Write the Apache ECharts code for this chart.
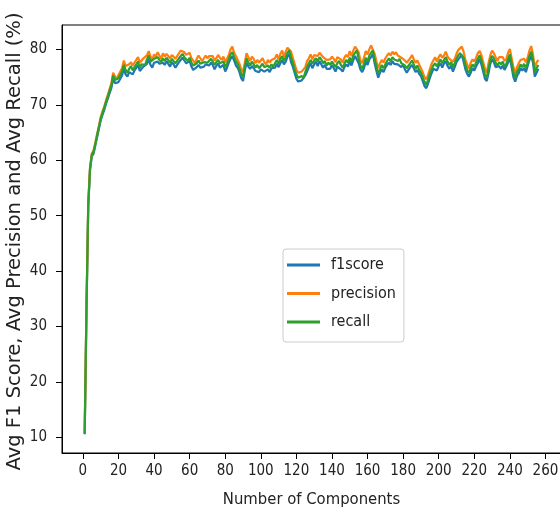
<!DOCTYPE html>
<html>
<head>
<meta charset="utf-8">
<script src="https://cdn.jsdelivr.net/npm/echarts@6/dist/echarts.min.js"></script>
<style>
  html, body { margin: 0; padding: 0; background: #fff; }
  #chart { width: 560px; height: 513px; }
</style>
</head>
<body>
<div id="chart"></div>
<script>
// number of components, 1..256
const components = Array.from({ length: 256 }, (_, i) => i + 1)

const recall = [
  10.7, 33, 52, 58.5, 61, 61.5, 63, 64.5, 66, 67.5,
  68.5, 69.5, 70.5, 71.5, 72.5, 73.5, 75.3, 74.5, 74.2, 74.8,
  75, 76, 77.2, 76.3, 75.8, 76.5, 77, 76.2, 76.8, 77.1,
  77.8, 76.7, 77.3, 77.6, 77.2, 78.2, 78.9, 77.8, 77.5, 78.3,
  78, 78.6, 78.1, 77.7, 78.4, 77.9, 78.5, 78.2, 77.6, 78.3,
  78, 77.5, 77.8, 78.4, 78.8, 79.2, 78.6, 78.3, 77.9, 78.5,
  77.6, 77.1, 76.8, 77.5, 78, 77.4, 77.1, 77.7, 78, 77.6,
  77.9, 78.3, 77.8, 77.2, 77.7, 78.1, 77.5, 77.3, 77.8, 76.8,
  77.4, 78.2, 79.1, 79.5, 78.6, 77.9, 77.4, 76.5, 75.6, 75,
  76.8, 78.4, 77.6, 77.1, 77.8, 77.3, 76.7, 77.2, 76.6, 77,
  77.4, 76.8, 76.5, 77.1, 76.7, 77.3, 76.9, 77.5, 78.1, 77.4,
  78.3, 78.8, 77.9, 78.6, 79.4, 79.8, 78.5, 77.6, 76.4, 75.5,
  74.9, 74.6, 75.2, 74.8, 75.9, 76.8, 77.5, 78.1, 77.4, 78,
  78.4, 77.8, 78.6, 78.2, 77.5, 77.9, 77.1, 77.6, 77.2, 77.8,
  77.3, 76.8, 77.5, 77.9, 77.2, 76.7, 77.4, 78.1, 77.6, 78.5,
  77.8, 78.9, 79.4, 79.8, 78.3, 77.1, 76.5, 77.4, 78.5, 77.8,
  78.9, 79.4, 79.8, 78.2, 76.9, 75.6, 76.4, 77.2, 76.6, 77.3,
  77.9, 78.4, 77.8, 78.6, 78.2, 78.4, 77.9, 78.3, 77.5, 77.8,
  77.1, 76.6, 76.9, 77.5, 78, 77.3, 76.5, 77.1, 76.3, 75.8,
  75, 74.2, 73.6, 74.5, 75.6, 76.4, 77.1, 77.5, 76.9, 77.6,
  78.2, 77.5, 78.1, 78.6, 77.8, 77.2, 77.7, 76.8, 77.5, 78.3,
  78.9, 79.3, 79.6, 78.5, 77.2, 76.3, 75.7, 76.6, 77.3, 76.8,
  77.6, 78.3, 78.9, 78, 76.8, 75.4, 74.9, 76.5, 78.1, 78.8,
  78.4, 77.6, 77.1, 77.7, 77.3, 77.8, 76.9, 77.4, 78.3, 79.1,
  77.5, 75.8, 74.8, 75.9, 76.5, 77.3, 76.8, 77.4, 76.6, 77.6,
  78.8, 79.6, 78.2, 75.8, 76.6, 77.2
]

const precision = [
  10.8, 33.3, 52.3, 58.7, 61.2, 61.8, 63.2, 64.8, 66.2, 67.8,
  68.8, 69.7, 70.8, 71.8, 72.9, 73.9, 75.8, 75.1, 74.7, 75.4,
  75.7, 76.6, 78.0, 77.0, 76.7, 77.3, 77.7, 77.1, 77.6, 77.7,
  78.6, 77.6, 78.0, 78.4, 78.2, 78.9, 79.7, 78.7, 78.1, 79.1,
  78.7, 79.5, 78.9, 78.3, 79.3, 78.7, 79.2, 79.1, 78.4, 79.0,
  78.9, 78.3, 78.5, 79.3, 79.8, 80.0, 79.5, 79.0, 78.7, 79.4,
  78.4, 78.0, 77.5, 78.3, 78.9, 78.4, 77.9, 78.4, 78.9, 78.4,
  78.8, 79.1, 78.8, 78.0, 78.4, 79.0, 78.5, 78.1, 78.7, 77.6,
  78.3, 79.0, 80.0, 80.5, 79.4, 78.8, 78.1, 77.4, 76.4, 75.9,
  77.6, 79.3, 78.6, 77.9, 78.7, 78.3, 77.5, 78.1, 77.6, 77.9,
  78.4, 77.7, 77.3, 78.1, 77.6, 78.1, 77.9, 78.4, 79.1, 78.2,
  79.2, 79.8, 78.7, 79.6, 80.3, 80.6, 79.6, 78.5, 77.4, 76.3,
  75.8, 75.6, 76.0, 75.8, 76.8, 77.9, 78.4, 79.1, 78.2, 79.0,
  79.3, 78.8, 79.4, 79.1, 78.6, 78.8, 78.1, 78.4, 78.2, 78.7,
  78.3, 77.7, 78.6, 78.7, 78.2, 77.6, 78.5, 79.0, 78.6, 79.7,
  78.8, 79.8, 80.5, 80.8, 79.5, 78.0, 77.5, 78.5, 79.7, 79.1,
  80.0, 80.7, 81.0, 79.2, 77.8, 76.6, 77.5, 78.1, 77.6, 78.4,
  78.9, 79.3, 78.9, 79.6, 79.1, 79.5, 78.9, 79.2, 78.5, 78.6,
  78.0, 77.6, 77.7, 78.4, 79.0, 78.2, 77.6, 78.0, 77.3, 76.6,
  75.9, 75.0, 74.6, 75.4, 76.4, 77.4, 78.0, 78.6, 77.8, 78.6,
  79.1, 78.5, 78.9, 79.6, 78.7, 78.3, 78.6, 77.8, 78.3, 79.2,
  79.9, 80.2, 80.5, 79.6, 78.1, 77.3, 76.5, 77.6, 78.2, 77.8,
  78.5, 79.3, 79.7, 79.0, 77.7, 76.5, 75.8, 77.5, 78.9, 79.8,
  79.3, 78.6, 77.9, 78.6, 78.3, 78.6, 77.9, 78.3, 79.4, 80.1,
  78.4, 76.8, 75.6, 76.8, 77.5, 78.1, 77.8, 78.3, 77.7, 78.5,
  79.8, 80.6, 79.1, 76.6, 77.6, 78.1
]

const f1score = [
  10.6, 32.7, 51.6, 58.2, 60.7, 61.2, 62.7, 64.2, 65.7, 67.2,
  68.2, 69.1, 70.2, 71.1, 72.1, 73.0, 74.8, 73.9, 73.6, 74.1,
  74.4, 75.3, 76.6, 75.5, 75.1, 75.9, 76.2, 75.5, 76.2, 76.3,
  77.1, 76.1, 76.5, 76.9, 76.6, 77.4, 78.2, 77.2, 76.7, 77.6,
  77.4, 77.8, 77.4, 77.1, 77.6, 77.2, 77.9, 77.4, 76.9, 77.7,
  77.3, 76.7, 77.2, 77.7, 78.0, 78.5, 78.0, 77.5, 77.2, 77.9,
  76.9, 76.3, 76.2, 76.8, 77.2, 76.7, 76.5, 76.9, 77.3, 77.0,
  77.1, 77.6, 77.2, 76.4, 77.0, 77.5, 76.7, 76.6, 77.2, 76.0,
  76.7, 77.6, 78.3, 78.8, 78.0, 77.1, 76.7, 75.9, 74.8, 74.3,
  76.2, 77.6, 76.9, 76.5, 77.0, 76.6, 76.1, 76.4, 75.9, 76.4,
  76.7, 76.0, 75.9, 76.4, 75.9, 76.6, 76.3, 76.7, 77.4, 76.8,
  77.5, 78.1, 77.3, 77.8, 78.7, 79.2, 77.7, 76.9, 75.8, 74.7,
  74.2, 74.0, 74.4, 74.1, 75.3, 76.0, 76.8, 77.5, 76.6, 77.3,
  77.8, 77.0, 77.9, 77.6, 76.7, 77.2, 76.5, 76.8, 76.5, 77.2,
  76.6, 76.0, 76.9, 77.2, 76.4, 76.0, 76.8, 77.3, 76.9, 77.9,
  77.1, 78.1, 78.8, 79.1, 77.5, 76.4, 75.9, 76.6, 77.8, 77.2,
  78.2, 78.6, 79.2, 77.5, 76.1, 74.9, 75.8, 76.4, 75.9, 76.7,
  77.2, 77.6, 77.2, 77.9, 77.4, 77.7, 77.3, 77.5, 76.8, 77.2,
  76.4, 75.8, 76.3, 76.8, 77.2, 76.6, 75.9, 76.3, 75.6, 75.2,
  74.3, 73.4, 73.0, 73.8, 74.8, 75.7, 76.5, 76.7, 76.2, 77.0,
  77.5, 76.7, 77.5, 77.9, 77.0, 76.5, 77.1, 76.0, 76.8, 77.7,
  78.2, 78.5, 79.0, 77.8, 76.4, 75.6, 75.1, 75.8, 76.6, 76.2,
  76.9, 77.5, 78.3, 77.3, 76.0, 74.7, 74.3, 75.7, 77.4, 78.2,
  77.7, 76.8, 76.5, 77.0, 76.5, 77.1, 76.3, 76.6, 77.6, 78.5,
  76.8, 75.0, 74.2, 75.2, 75.7, 76.6, 76.2, 76.6, 75.9, 77.0,
  78.1, 78.8, 77.6, 75.1, 75.8, 76.5
]

const xTicks = [0, 20, 40, 60, 80, 100, 120, 140, 160, 180, 200, 220, 240, 260]
const yTicks = [10, 20, 30, 40, 50, 60, 70, 80]

const chart = echarts.init(document.getElementById('chart'))

const labelFont = '"DejaVu Sans Condensed", "DejaVu Sans", sans-serif'
const pairs = arr => components.map((c, i) => [c, arr[i]])

const lineSeries = (name, arr, color) => ({
  name,
  type: 'line',
  data: pairs(arr),
  showSymbol: false,
  symbol: 'none',
  lineStyle: { color, width: 2.2 },
  itemStyle: { color },
})

const option = {
  backgroundColor: '#fff',
  animation: false,
  grid: {
    left: 62,
    right: -1,
    top: 25,
    bottom: 60,
    show: true,
    borderColor: '#000',
    borderWidth: 1,
    containLabel: false,
    outerBoundsMode: 'none',
  },
  xAxis: {
    type: 'value',
    min: -11.75,
    max: 268.75,
    name: 'Number of Components',
    nameLocation: 'middle',
    nameGap: 38,
    nameMoveOverlap: false,
    nameTextStyle: { fontFamily: labelFont, fontSize: 16.5, color: '#222' },
    axisLine: { show: true, onZero: false, lineStyle: { color: '#000', width: 1 } },
    axisTick: { show: true, inside: false, length: 6, customValues: xTicks, lineStyle: { color: '#000' } },
    axisLabel: { customValues: xTicks, fontFamily: labelFont, fontSize: 15, color: '#222', margin: 11 },
    splitLine: { show: false },
  },
  yAxis: {
    type: 'value',
    min: 7.2,
    max: 84.4,
    name: 'Avg F1 Score, Avg Precision and Avg Recall (%)',
    nameLocation: 'middle',
    nameGap: 37,
    nameMoveOverlap: false,
    nameRotate: 90,
    nameTextStyle: { fontFamily: '"DejaVu Sans", sans-serif', fontSize: 19.5, color: '#222', padding: [0, 5, 0, 0] },
    axisLine: { show: true, onZero: false, lineStyle: { color: '#000', width: 1 } },
    axisTick: { show: true, inside: false, length: 6, customValues: yTicks, lineStyle: { color: '#000' } },
    axisLabel: { customValues: yTicks, fontFamily: labelFont, fontSize: 15, color: '#222', margin: 15 },
    splitLine: { show: false },
  },
  legend: {
    orient: 'vertical',
    left: 283,
    top: 249,
    padding: [7, 8, 11, 4],
    itemWidth: 33,
    itemHeight: 3,
    itemGap: 10.5,
    icon: 'rect',
    backgroundColor: '#fff',
    borderColor: '#ccc',
    borderWidth: 1,
    borderRadius: 3,
    textStyle: { fontFamily: labelFont, fontSize: 16, color: '#222', lineHeight: 18, padding: [0, 0, 0, 6] },
    data: ['f1score', 'precision', 'recall'],
  },
  series: [
    lineSeries('f1score', f1score, '#1f77b4'),
    lineSeries('precision', precision, '#ff7f0e'),
    lineSeries('recall', recall, '#2ca02c'),
  ],
}

chart.setOption(option)
</script>
</body>
</html>
